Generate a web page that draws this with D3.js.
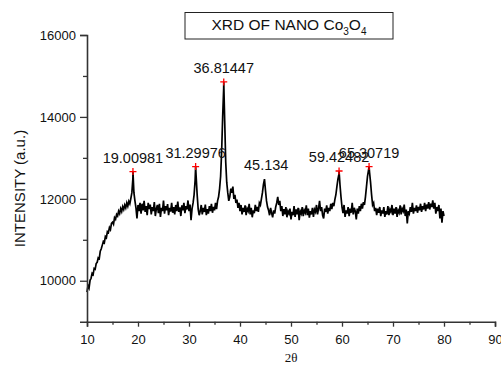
<!DOCTYPE html>
<html>
<head>
<meta charset="utf-8">
<script src="https://cdn.jsdelivr.net/npm/d3@7/dist/d3.min.js"></script>
<style>
  html, body { margin: 0; padding: 0; background: #fff; }
  svg { display: block; }
  text { font-family: "Liberation Sans", Arial, sans-serif; fill: #111; }
</style>
</head>
<body>
<svg id="chart" width="501" height="366"></svg>
<script>
// ---- data ----
const startAngle = 10;      // 2θ of first sample
const stepAngle = 0.2;      // sampling step (deg)
// intensity, one row per degree: x.0, x.2, x.4, x.6, x.8
const intensity = [
  9720, 9880, 9820, 10010, 10060,      // 10
  10180, 10150, 10300, 10280, 10420,   // 11
  10450, 10560, 10540, 10720, 10780,   // 12
  10870, 10960, 10930, 11080, 11050,   // 13
  11200, 11180, 11300, 11250, 11400,   // 14
  11430, 11380, 11540, 11500, 11620,   // 15
  11580, 11700, 11640, 11760, 11690,   // 16
  11810, 11740, 11850, 11780, 11900,   // 17
  11820, 11940, 11880, 12010, 12150,   // 18
  12500, 12150, 11950, 11780, 11520,   // 19
  11850, 11700, 11900, 11640, 11880,   // 20
  11720, 11950, 11680, 11820, 11600,   // 21
  11900, 11750, 11860, 11620, 11800,   // 22
  11700, 11920, 11580, 11760, 11850,   // 23
  11650, 11880, 11560, 11780, 11700,   // 24
  11960, 11640, 11820, 11720, 11870,   // 25
  11600, 11780, 11690, 11900, 11660,   // 26
  11800, 11620, 11850, 11700, 11930,   // 27
  11680, 11790, 11580, 11840, 11720,   // 28
  11900, 11650, 11820, 11740, 11960,   // 29
  11700, 11860, 11480, 11760, 11900,   // 30
  12100, 12450, 12550, 12100, 11750,   // 31
  11600, 11700, 11850, 11620, 11780,   // 32
  11680, 11860, 11600, 11750, 11640,   // 33
  11820, 11700, 11880, 11660, 11800,   // 34
  11720, 11900, 11750, 11950, 12050,   // 35
  12250, 12550, 13150, 14000, 14700,   // 36
  13900, 12900, 12400, 12150, 11950,   // 37
  12050, 12250, 12150, 12300, 12000,   // 38
  12100, 11900, 11980, 11780, 11900,   // 39
  11700, 11850, 11620, 11780, 11680,   // 40
  11840, 11600, 11760, 11700, 11880,   // 41
  11620, 11780, 11550, 11720, 11650,   // 42
  11850, 11700, 11800, 11680, 11900,   // 43
  11850, 12000, 12150, 12350, 12480,   // 44
  12200, 11950, 11800, 11720, 11600,   // 45
  11780, 11650, 11550, 11720, 11640,   // 46
  11800, 11900, 12050, 11850, 11950,   // 47
  11700, 11820, 11580, 11750, 11620,   // 48
  11800, 11550, 11700, 11640, 11760,   // 49
  11500, 11680, 11600, 11820, 11560,   // 50
  11740, 11620, 11780, 11480, 11700,   // 51
  11640, 11800, 11580, 11720, 11660,   // 52
  11840, 11600, 11760, 11540, 11700,   // 53
  11620, 11780, 11560, 11740, 11680,   // 54
  11850, 11620, 11760, 11950, 11700,   // 55
  11800, 11600, 11520, 11760, 11680,   // 56
  11840, 11640, 11780, 11700, 11880,   // 57
  11750, 11900, 11820, 11980, 12100,   // 58
  12300, 12480, 12600, 12350, 12050,   // 59
  11800, 11650, 11850, 11560, 11720,   // 60
  11640, 11800, 11580, 11760, 11660,   // 61
  11900, 11620, 11780, 11700, 11500,   // 62
  11760, 11640, 11820, 11700, 11880,   // 63
  11760, 11920, 11850, 12050, 12300,   // 64
  12550, 12700, 12650, 12400, 12100,   // 65
  11850, 11900, 11700, 11780, 11600,   // 66
  11760, 11660, 11800, 11580, 11720,   // 67
  11640, 11800, 11560, 11700, 11620,   // 68
  11820, 11600, 11740, 11680, 11850,   // 69
  11600, 11760, 11640, 11800, 11560,   // 70
  11720, 11660, 11840, 11620, 11760,   // 71
  11700, 11860, 11580, 11740, 11400,   // 72
  11700, 11640, 11800, 11680, 11900,   // 73
  11640, 11780, 11700, 11840, 11660,   // 74
  11800, 11720, 11880, 11680, 11820,   // 75
  11740, 11900, 11700, 11860, 11760,   // 76
  11920, 11740, 11880, 11800, 11960,   // 77
  11760, 11900, 11640, 11800, 11700,   // 78
  11850, 11520, 11760, 11420, 11700,   // 79
  11580                                // 80
];
const peakAngles = [19.00981, 31.29976, 36.81447, 45.134, 59.42482, 65.30719];
const peakIntensities = [12666, 12788, 14854, 12480, 12680, 12788];
const peakLabels = ["19.00981", "31.29976", "36.81447", "45.134", "59.42482", "65.30719"];
const peakMarked = [true, true, true, false, true, true];
const xMajorTicks = [10, 20, 30, 40, 50, 60, 70, 80, 90];
const xMinorTicks = [15, 25, 35, 45, 55, 65, 75, 85];
const yMajorTicks = [10000, 12000, 14000, 16000];
const yMinorTicks = [11000, 13000, 15000];

// ---- drawing ----
const svg = d3.select("#chart");
const x = d3.scaleLinear().domain([10, 90]).range([87, 495]);
const y = d3.scaleLinear().domain([9000, 16000]).range([321.7, 35]);

// series points + marked peak tops
const pts = intensity.map((v, i) => [startAngle + i * stepAngle, v]);
peakAngles.forEach((a, i) => { if (peakMarked[i]) pts.push([a, peakIntensities[i]]); });
pts.sort((a, b) => a[0] - b[0]);

const line = d3.line().x(d => x(d[0])).y(d => y(d[1]));
svg.append("path")
  .datum(pts)
  .attr("d", line)
  .attr("fill", "none")
  .attr("stroke", "#000")
  .attr("stroke-width", 1.7)
  .attr("stroke-linejoin", "miter");

// axes
const axisColor = "#333";
function styleAxis(g) {
  g.select(".domain").attr("stroke", axisColor).attr("stroke-width", 1.6);
  g.selectAll(".tick line").attr("stroke", axisColor).attr("stroke-width", 1.3);
  g.selectAll(".tick text")
    .attr("font-family", "'Liberation Sans', Arial, sans-serif")
    .attr("font-size", 13).attr("fill", "#111");
}
svg.append("g").attr("transform", "translate(87,0)")
  .call(d3.axisLeft(y).tickValues(yMajorTicks).tickSize(7).tickPadding(4).tickFormat(d3.format("d")))
  .call(styleAxis);
svg.append("g").attr("transform", "translate(87,0)")
  .call(d3.axisLeft(y).tickValues(yMinorTicks).tickSize(4).tickFormat(""))
  .call(styleAxis).select(".domain").remove();

svg.append("g").attr("transform", "translate(0,321.7)")
  .call(d3.axisBottom(x).tickValues(xMajorTicks).tickSize(5).tickPadding(8).tickFormat(d3.format("d")))
  .call(styleAxis);
svg.append("g").attr("transform", "translate(0,321.7)")
  .call(d3.axisBottom(x).tickValues(xMinorTicks).tickSize(3).tickFormat(""))
  .call(styleAxis).select(".domain").remove();

// peak markers and labels
peakAngles.forEach((a, i) => {
  const px = x(a), py = y(peakIntensities[i]);
  if (peakMarked[i]) {
    svg.append("path")
      .attr("d", `M${px - 3.5},${py}H${px + 3.5}M${px},${py - 3.5}V${py + 3.5}`)
      .attr("stroke", "#ff0000").attr("stroke-width", 1.3).attr("fill", "none");
  }
  svg.append("text")
    .attr("x", px).attr("y", py - 9)
    .attr("text-anchor", "middle")
    .attr("font-size", 14.5)
    .text(peakLabels[i]);
});

// title box
svg.append("rect").attr("x", 185).attr("y", 12.5).attr("width", 208).attr("height", 26.5)
  .attr("fill", "#fff").attr("stroke", "#222").attr("stroke-width", 1);
const title = svg.append("text").attr("x", 289).attr("y", 30)
  .attr("text-anchor", "middle").attr("font-size", 15.5);
title.append("tspan").text("XRD OF NANO Co");
title.append("tspan").attr("font-size", 10).attr("dy", 5).text("3");
title.append("tspan").attr("dy", -5).text("O");
title.append("tspan").attr("font-size", 10).attr("dy", 5).text("4");

// axis titles
svg.append("text")
  .attr("transform", "translate(25,188.5) rotate(-90)")
  .attr("text-anchor", "middle")
  .attr("font-size", 15)
  .text("INTENSITY (a.u.)");
svg.append("text")
  .attr("x", 291).attr("y", 362)
  .attr("text-anchor", "middle")
  .attr("font-size", 13)
  .style("font-family", "'Liberation Serif', 'Times New Roman', serif")
  .text("2θ");
</script>
</body>
</html>
